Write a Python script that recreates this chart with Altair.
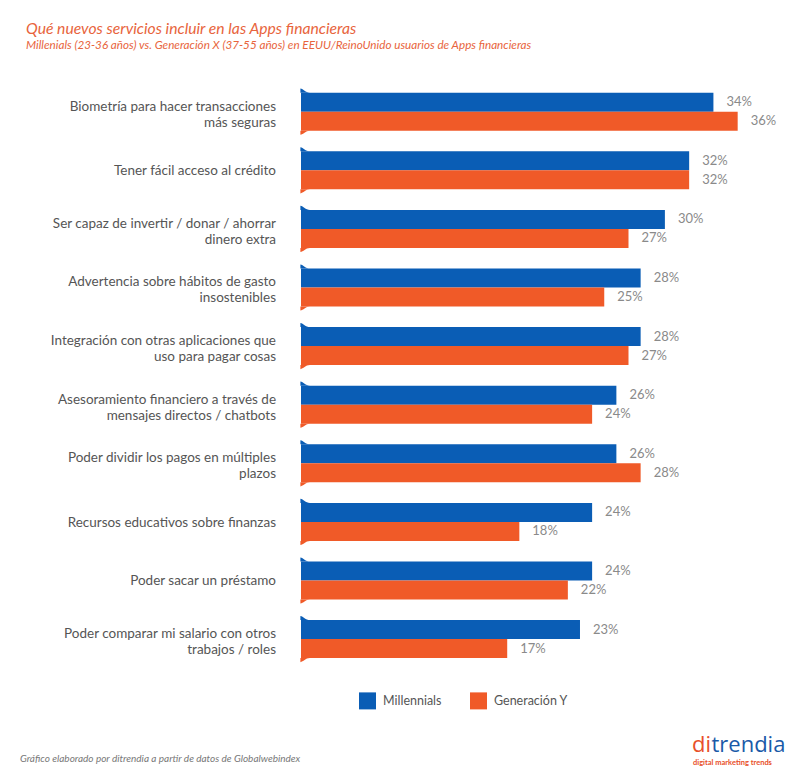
import altair as alt
import pandas as pd

labels = [
    "Biometría para hacer transacciones\nmás seguras",
    "Tener fácil acceso al crédito",
    "Ser capaz de invertir / donar / ahorrar\ndinero extra",
    "Advertencia sobre hábitos de gasto\ninsostenibles",
    "Integración con otras aplicaciones que\nuso para pagar cosas",
    "Asesoramiento financiero a través de\nmensajes directos / chatbots",
    "Poder dividir los pagos en múltiples\nplazos",
    "Recursos educativos sobre finanzas",
    "Poder sacar un préstamo",
    "Poder comparar mi salario con otros\ntrabajos / roles",
]
millennials = [34, 32, 30, 28, 28, 26, 26, 24, 24, 23]
generacion = [36, 32, 27, 25, 27, 24, 28, 18, 22, 17]
series_names = ["Millennials", "Generación Y"]
series_colors = ["#0a5db5", "#f05a28"]

title_text = "Qué nuevos servicios incluir en las Apps financieras"
subtitle_text = "Millenials (23-36 años) vs. Generación X (37-55 años) en EEUU/ReinoUnido usuarios de Apps financieras"
footer_text = "Gráfico elaborado por ditrendia a partir de datos de Globalwebindex"
logo_accent = "di"
logo_rest = "trendia"
logo_tagline = "digital   marketing   trends"

rows = []
for i, lab in enumerate(labels):
    rows.append({"row": i, "label": lab, "series": series_names[0], "value": millennials[i]})
    rows.append({"row": i, "label": lab, "series": series_names[1], "value": generacion[i]})
df = pd.DataFrame(rows)
df["txt"] = df["value"].astype(str) + "%"
cats = pd.DataFrame({"row": list(range(len(labels))), "label": labels})
cats["multi"] = cats["label"].str.contains("\n")

FONT = "Lato"
ystep = alt.Scale(paddingInner=0.3515, paddingOuter=0.1758)
y_enc = alt.Y("row:O", axis=None, scale=ystep)
yoff = alt.YOffset("series:N", sort=series_names, scale=alt.Scale(paddingInner=0, paddingOuter=0))
x_enc = alt.X("value:Q", axis=None, scale=alt.Scale(domain=[0, 40], nice=False, zero=True))

base = alt.Chart(df)

bars = base.mark_bar(cornerRadius=0).encode(
    x=x_enc,
    y=y_enc,
    yOffset=yoff,
    color=alt.Color(
        "series:N",
        sort=series_names,
        scale=alt.Scale(domain=series_names, range=series_colors),
        legend=alt.Legend(
            title=None,
            orient="none",
            legendX=58,
            legendY=610,
            direction="horizontal",
            symbolType="square",
            symbolSize=289,
            symbolStrokeWidth=0,
            symbolOpacity=1,
            labelFont=FONT,
            labelFontSize=12.5,
            labelColor="#555555",
            labelOffset=7,
            columnPadding=28,
        ),
    ),
)

curl_blue = base.transform_filter(alt.datum.series == series_names[0]).mark_point(
    filled=True, opacity=1, strokeWidth=0, size=16,
    shape="M-0.3,-4.75 L-0.3,-6.8 C1.2,-6.6 2.2,-4.75 4.5,-4.75 Z", fill=series_colors[0],
).encode(x=alt.value(0), y=y_enc, yOffset=yoff)

curl_orange = base.transform_filter(alt.datum.series == series_names[1]).mark_point(
    filled=True, opacity=1, strokeWidth=0, size=16,
    shape="M-0.3,4.75 L-0.3,6.8 C1.2,6.6 2.2,4.75 4.5,4.75 Z", fill=series_colors[1],
).encode(x=alt.value(0), y=y_enc, yOffset=yoff)

values = base.mark_text(
    align="left", baseline="middle", dx=13, font=FONT, fontSize=13, color="#8a8a8a"
).encode(x=x_enc, y=y_enc, yOffset=yoff, text="txt:N")

cat_single = alt.Chart(cats).transform_filter(~alt.datum.multi).mark_text(
    align="right", baseline="middle", font=FONT, fontSize=13.5, color="#555555", dy=1,
).encode(x=alt.value(-25), y=y_enc, text="label:N")

cat_multi = alt.Chart(cats).transform_filter(alt.datum.multi).mark_text(
    align="right", baseline="middle", lineBreak="\n", font=FONT, fontSize=13.5,
    lineHeight=16, color="#555555", dy=-5,
).encode(x=alt.value(-25), y=y_enc, text="label:N")

footer = alt.Chart(pd.DataFrame({"t": [footer_text]})).mark_text(
    align="left", baseline="middle", font=FONT, fontSize=10, fontStyle="italic", color="#777777"
).encode(x=alt.value(-281), y=alt.value(677), text="t:N")

logo_di = alt.Chart(pd.DataFrame({"t": [logo_accent]})).mark_text(
    align="left", baseline="alphabetic", font="Open Sans", fontSize=22, color="#e8502a"
).encode(x=alt.value(391), y=alt.value(670), text="t:N")
logo_tr = alt.Chart(pd.DataFrame({"t": [logo_rest]})).mark_text(
    align="left", baseline="alphabetic", font="Open Sans", fontSize=22, color="#1a5aa8"
).encode(x=alt.value(410.5), y=alt.value(670), text="t:N")
logo_sub = alt.Chart(pd.DataFrame({"t": [logo_tagline]})).mark_text(
    align="left", baseline="middle", font=FONT, fontSize=7.5, fontWeight="bold", color="#e8502a"
).encode(x=alt.value(392), y=alt.value(681), text="t:N")

chart = alt.layer(
    bars, curl_blue, curl_orange, values, cat_single, cat_multi, footer,
    logo_di, logo_tr, logo_sub
).properties(
    width=485.2,
    height=586,
    autosize=alt.AutoSizeParams(type="none"),
    padding={"left": 293, "top": 74.4, "right": 5.8, "bottom": 100},
    title=alt.TitleParams(
        text=title_text,
        subtitle=subtitle_text,
        anchor="start",
        frame="group",
        dx=-275,
        offset=30,
        font=FONT,
        fontSize=15.7,
        fontStyle="italic",
        fontWeight="normal",
        color="#e8643c",
        subtitleFont=FONT,
        subtitleFontSize=11.7,
        subtitleFontStyle="italic",
        subtitleColor="#e8643c",
        subtitlePadding=2,
    ),
).configure_view(stroke=None)

chart.save("out.html", embed_options={"renderer": "svg", "actions": False})
